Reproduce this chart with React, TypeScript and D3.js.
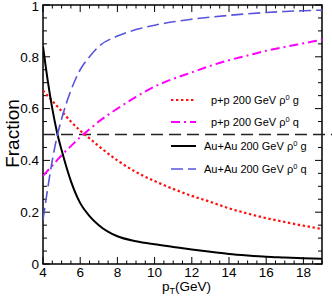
import React from "react";
import * as d3 from "d3";

const pT = [4, 4.25, 4.5, 4.75, 5, 5.5, 6, 6.5, 7, 8, 9, 10, 11, 12, 13, 14, 15, 16, 17, 18, 19];
const ppGluon = [0.67, 0.65, 0.63, 0.61, 0.59, 0.55, 0.515, 0.485, 0.455, 0.4, 0.355, 0.32, 0.29, 0.263, 0.24, 0.215, 0.195, 0.177, 0.162, 0.148, 0.135];
const ppQuark = [0.34, 0.36, 0.38, 0.4, 0.42, 0.455, 0.49, 0.52, 0.55, 0.6, 0.645, 0.685, 0.715, 0.74, 0.765, 0.787, 0.805, 0.823, 0.838, 0.852, 0.866];
const auGluon = [0.84, 0.71, 0.6, 0.51, 0.44, 0.32, 0.235, 0.185, 0.15, 0.107, 0.088, 0.076, 0.066, 0.056, 0.047, 0.039, 0.033, 0.028, 0.025, 0.022, 0.02];
const auQuark = [0.17, 0.29, 0.4, 0.49, 0.56, 0.67, 0.75, 0.8, 0.84, 0.88, 0.905, 0.922, 0.935, 0.945, 0.953, 0.96, 0.966, 0.971, 0.975, 0.978, 0.98];
const xTicks = [4, 6, 8, 10, 12, 14, 16, 18];
const yTicks = [0, 0.2, 0.4, 0.6, 0.8, 1];
const yTickLabels = ["0", "0.2", "0.4", "0.6", "0.8", "1"];
const legendLabels = ["p+p 200 GeV ", "p+p 200 GeV ", "Au+Au 200 GeV ", "Au+Au 200 GeV "];
const legendParton = ["g", "q", "g", "q"];

const W = 332, H = 305;
const L = 43, R = 322, T = 5, B = 264;
const narrow = "'Liberation Sans Narrow', 'Liberation Sans', Arial, sans-serif";
const sans = "'Liberation Sans', Arial, sans-serif";

export default function App() {
  const x = d3.scaleLinear().domain([4, 19]).range([L, R]);
  const y = d3.scaleLinear().domain([0, 1]).range([B, T]);
  const mk = (vals: number[]) =>
    d3.line<number>().x((_, i) => x(pT[i])).y((v) => y(v)).curve(d3.curveMonotoneX)(vals) || "";

  const series = [
    { vals: ppGluon, color: "#ff1010", dash: "2.4,2.6", w: 2.2 },
    { vals: ppQuark, color: "#ff00ff", dash: "9,4,2,4", w: 2 },
    { vals: auGluon, color: "#000000", dash: "", w: 2 },
    { vals: auQuark, color: "#5555dd", dash: "12,5", w: 1.6 },
  ];
  const legendY = [100, 122, 146, 169];
  const legendTextX = [211, 211, 204, 204];

  const xMinor = d3.range(4, 19.01, 0.5);
  const yMinor = d3.range(0, 1.001, 0.05);

  return (
    <svg width={W} height={H} style={{ position: "absolute", left: 0, top: 0, background: "#fff" }}>
      <defs>
        <clipPath id="clip">
          <rect x={L} y={T} width={R - L} height={B - T} />
        </clipPath>
      </defs>
      {xMinor.map((v, i) => {
        const major = Math.abs(v % 2) < 1e-6;
        const len = major ? 7 : 3.5;
        return (
          <g key={"xm" + i} stroke="#000" strokeWidth={1}>
            <line x1={x(v)} x2={x(v)} y1={B} y2={B - len} />
            <line x1={x(v)} x2={x(v)} y1={T} y2={T + len} />
          </g>
        );
      })}
      {yMinor.map((v, i) => {
        const r = Math.round(v * 100) % 20;
        const len = r === 0 ? 7 : 4;
        return (
          <g key={"ym" + i} stroke="#000" strokeWidth={1}>
            <line x1={L} x2={L + len} y1={y(v)} y2={y(v)} />
            <line x1={R} x2={R - len} y1={y(v)} y2={y(v)} />
          </g>
        );
      })}
      <rect x={L} y={T} width={R - L} height={B - T} fill="none" stroke="#000" strokeWidth={1.5} />
      {xTicks.map((v) => (
        <text key={"xt" + v} x={x(v)} y={277} textAnchor="middle" fontFamily={narrow} fontSize={13.5} fill="#000">
          {v}
        </text>
      ))}
      {yTicks.map((v, i) => (
        <text key={"yt" + v} x={39} y={Math.max(y(v) + 4.8, 11)} textAnchor="end" fontFamily={narrow} fontSize={13.5} fill="#000">
          {yTickLabels[i]}
        </text>
      ))}
      <text transform={`translate(19,${(T + B) / 2 - 1}) rotate(-90)`} textAnchor="middle" fontFamily={sans} fontSize={19} fill="#000">
        Fraction
      </text>
      <text x={162} y={291} fontFamily={narrow} fontSize={13.5} fill="#000">
        p<tspan fontSize={9} dy={3}>T</tspan>
        <tspan dy={-3}>(GeV)</tspan>
      </text>
      <line x1={L} x2={W} y1={y(0.5)} y2={y(0.5)} stroke="#222" strokeWidth={1.5} strokeDasharray="12,6" />
      <g clipPath="url(#clip)">
        {series.map((s, i) => (
          <path key={"s" + i} d={mk(s.vals)} fill="none" stroke={s.color} strokeWidth={s.w} strokeDasharray={s.dash || undefined} />
        ))}
      </g>
      {series.map((s, i) => (
        <g key={"lg" + i}>
          <line x1={171} x2={196} y1={legendY[i]} y2={legendY[i]} stroke={s.color} strokeWidth={s.w} strokeDasharray={s.dash || undefined} />
          <text x={legendTextX[i]} y={legendY[i] + 4} fontFamily={sans} fontSize={11} fill="#000">
            {legendLabels[i]}ρ<tspan fontSize={7.5} dy={-4.5}>0</tspan>
            <tspan dy={4.5}> {legendParton[i]}</tspan>
          </text>
        </g>
      ))}
    </svg>
  );
}
